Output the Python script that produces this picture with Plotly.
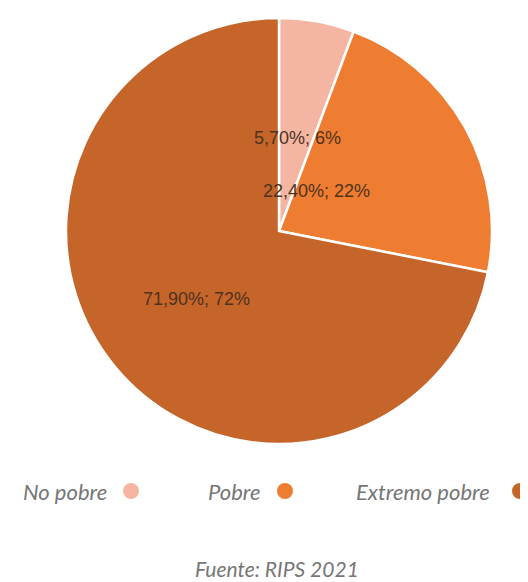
import math
import plotly.graph_objects as go

categories = ["No pobre", "Pobre", "Extremo pobre"]
values = [5.7, 22.4, 71.9]
rounded = [6, 22, 72]
colors = ["#F4B6A3", "#EE7D31", "#C5652A"]
source = "Fuente: RIPS 2021"

# page body has an 8px margin, so work in page pixels and offset
OFF = 8
W, H = 528 - OFF, 582 - OFF
cx, cy, R = 279 - OFF, 231 - OFF, 213


def fx(px):
    return px / W


def fy(py):
    return 1 - py / H


fig = go.Figure()
fig.add_trace(go.Pie(
    labels=categories, values=values, sort=False, direction="clockwise",
    rotation=0, marker=dict(colors=colors, line=dict(color="white", width=2.5)),
    textinfo="none", hoverinfo="label+percent", showlegend=False,
    domain=dict(x=[fx(cx - R), fx(cx + R)], y=[fy(cy + R), fy(cy - R)]),
))

annotations = []
total = sum(values)
cum = 0.0
for v, rd in zip(values, rounded):
    mid = (cum + v / 2) / total * 2 * math.pi
    cum += v
    px = cx + 0.5 * R * math.sin(mid)
    py = cy - 0.5 * R * math.cos(mid)
    txt = f"{v:.2f}".replace(".", ",") + f"%; {rd}%"
    annotations.append(dict(x=fx(px), y=fy(py), xref="paper", yref="paper",
                            text=txt, showarrow=False,
                            font=dict(family="Liberation Sans", size=18, color="#4e321e")))

# legend (text followed by marker)
leg_font = dict(family="Lato", size=22, color="#767676")
leg_text_right = [109 - OFF, 263 - OFF, 492 - OFF]
leg_dot_x = [131 - OFF, 285 - OFF, 520 - OFF]
leg_y = 491 - OFF
for name, col, xr, xd in zip(categories, colors, leg_text_right, leg_dot_x):
    annotations.append(dict(x=fx(xr), y=fy(leg_y), xref="paper", yref="paper",
                            xanchor="right", yanchor="middle", showarrow=False,
                            text=f"<i>{name}</i>", font=leg_font))
    fig.add_shape(type="circle", xref="paper", yref="paper",
                  x0=fx(xd - 8), x1=fx(xd + 8),
                  y0=fy(leg_y + 8), y1=fy(leg_y - 8),
                  fillcolor=col, line=dict(width=0))

annotations.append(dict(x=fx(277 - OFF), y=fy(568 - OFF), xref="paper", yref="paper",
                        xanchor="center", yanchor="middle", showarrow=False,
                        text=f"<i>{source}</i>",
                        font=dict(family="Lato", size=21, color="#767676")))

fig.update_layout(width=W, height=H, margin=dict(l=0, r=0, t=0, b=0),
                  paper_bgcolor="white", plot_bgcolor="white",
                  annotations=annotations)
fig.write_html("out.html")
